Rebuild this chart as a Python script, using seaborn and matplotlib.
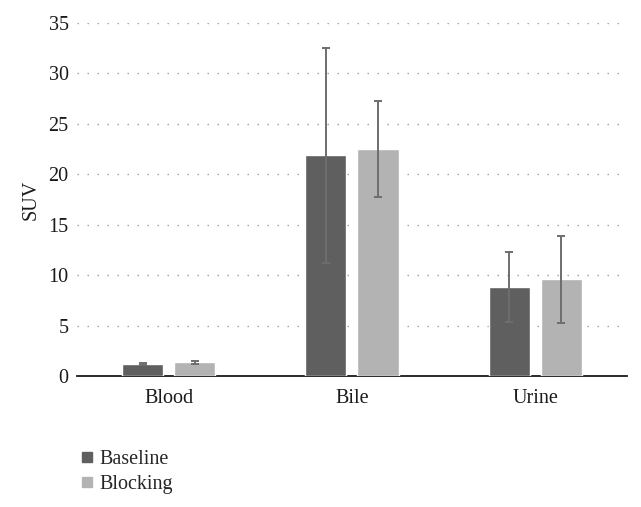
import numpy as np
import pandas as pd
import matplotlib
matplotlib.use("Agg")
import matplotlib.pyplot as plt
from matplotlib.lines import Line2D
import seaborn as sns

# values
tissues = ["Blood", "Bile", "Urine"]
groups = ["Baseline", "Blocking"]
baseline_suv = [1.16, 21.86, 8.82]
blocking_suv = [1.36, 22.52, 9.58]
baseline_err = [0.10, 10.6, 3.45]
blocking_err = [0.17, 4.75, 4.3]
colors = ["#5f5f5f", "#b3b3b3"]

df = pd.DataFrame({
    "tissue": tissues * 2,
    "group": [groups[0]] * 3 + [groups[1]] * 3,
    "suv": baseline_suv + blocking_suv,
    "err": baseline_err + blocking_err,
})

sns.set_style("white")
plt.rcParams["font.family"] = ["Liberation Serif", "DejaVu Serif"]

fig = plt.figure(figsize=(6.41, 5.07), dpi=100)
ax = fig.add_axes([0.120, 0.258, 0.858, 0.697])

sns.barplot(data=df, x="tissue", y="suv", hue="group", order=tissues,
            hue_order=groups, palette=colors, width=0.568, gap=0.21,
            errorbar=None, legend=False, ax=ax, zorder=3)

# error bars at the centres of the drawn bars
for patch, (_, row) in zip(ax.patches, df.iterrows()):
    xc = patch.get_x() + patch.get_width() / 2
    ax.errorbar(xc, row["suv"], yerr=row["err"], fmt="none",
                ecolor="#6e6e6e", elinewidth=1.4, capsize=3, capthick=1.4, zorder=4)

ax.set_ylim(0, 35)
ax.set_xlim(-0.5, 2.5)
ax.set_yticks(range(0, 36, 5))
ax.yaxis.grid(True, color="#9a9a9a", linestyle=(0, (1, 6.2)), linewidth=1.0)
ax.set_axisbelow(True)
for s in ["top", "right", "left"]:
    ax.spines[s].set_visible(False)
ax.spines["bottom"].set_color("#1a1a1a")
ax.spines["bottom"].set_linewidth(1.3)
ax.tick_params(axis="both", length=0, labelsize=14.5, colors="#1a1a1a", pad=6)
ax.tick_params(axis="x", pad=9)
ax.set_xlabel("")
ax.set_ylabel("SUV", fontsize=14.5, color="#1a1a1a", labelpad=6)

handles = [Line2D([0], [0], marker="s", linestyle="none", markersize=7,
                  markerfacecolor=c, markeredgecolor=c) for c in colors]
fig.legend(handles, groups, loc="upper left", bbox_to_anchor=(0.108, 0.128),
           frameon=False, fontsize=14.5, handletextpad=0.1, labelspacing=0.3,
           handlelength=1.0, borderaxespad=0)

fig.savefig("out.png", dpi=100)
